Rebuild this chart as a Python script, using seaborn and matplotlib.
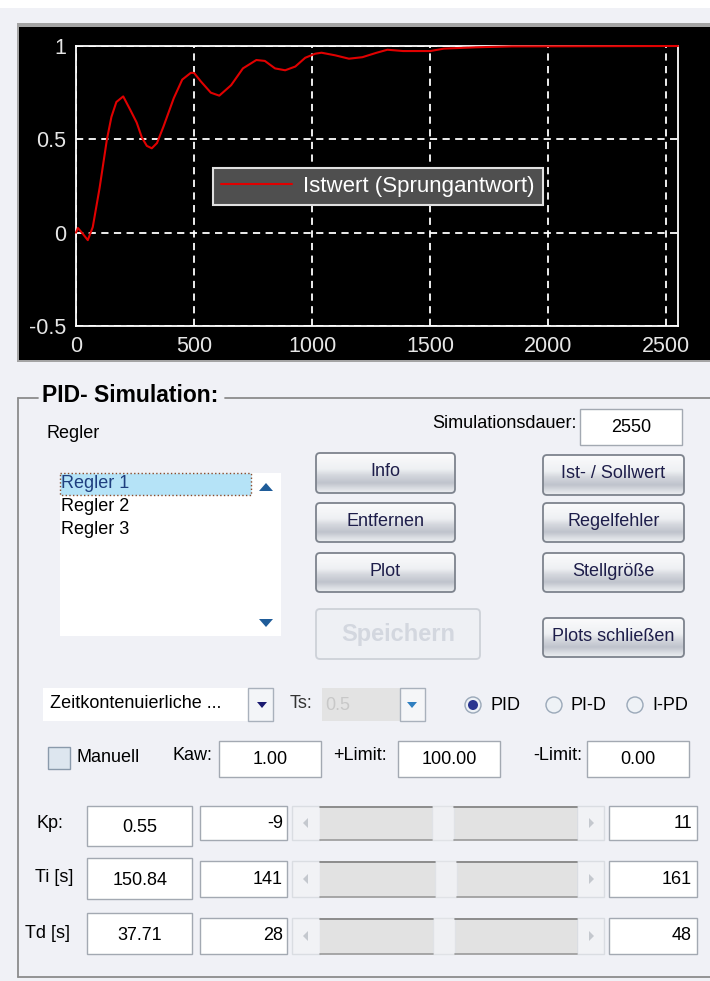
import numpy as np
import matplotlib
matplotlib.use("Agg")
import matplotlib.pyplot as plt
import seaborn as sns
from matplotlib.patches import Rectangle, FancyBboxPatch, Circle, Polygon

# Sprungantwort (Istwert)
zeit = [0, 8, 25, 50, 71, 100, 131, 150, 171, 200, 229, 257, 279, 300, 321,
        343, 371, 414, 450, 486, 500, 529, 571, 607, 657, 707, 764, 800, 843,
        886, 929, 971, 1014, 1040, 1098, 1156, 1213, 1271, 1319, 1386, 1501,
        1559, 1693, 1847, 2550]
istwert = [0.0, 0.025, 0.0, -0.04, 0.03, 0.24, 0.5, 0.62, 0.70, 0.73, 0.66,
           0.59, 0.51, 0.465, 0.452, 0.48, 0.57, 0.72, 0.82, 0.856, 0.856,
           0.81, 0.75, 0.734, 0.79, 0.88, 0.925, 0.92, 0.88, 0.87, 0.89,
           0.937, 0.959, 0.964, 0.95, 0.932, 0.94, 0.963, 0.98, 0.973, 0.973,
           0.986, 0.993, 0.998, 1.0]
legende = "Istwert (Sprungantwort)"
x_ticks = [0, 500, 1000, 1500, 2000, 2500]
y_ticks = [-0.5, 0, 0.5, 1]
y_tick_labels = ["-0.5", "0", "0.5", "1"]
sim_dauer = "2550"

regler = ["Regler 1", "Regler 2", "Regler 3"]
buttons_links = ["Info", "Entfernen", "Plot"]
buttons_rechts = ["Ist- / Sollwert", "Regelfehler", "Stellgröße"]
modi = ["PID", "PI-D", "I-PD"]
limits = [("Kaw:", "1.00"), ("+Limit:", "100.00"), ("-Limit:", "0.00")]
param_namen = ["Kp:", "Ti [s]", "Td [s]"]
param_werte = ["0.55", "150.84", "37.71"]
param_min = ["-9", "141", "28"]
param_max = ["11", "161", "48"]

BG = "#f0f1f6"

sns.set_theme(style="dark")
plt.rcParams["font.family"] = ["Liberation Sans", "DejaVu Sans"]

fig = plt.figure(figsize=(7.1, 9.81), dpi=100, facecolor=BG)

# Hintergrund-Achse in Pixelkoordinaten fuer die GUI-Elemente
gui = fig.add_axes([0, 0, 1, 1], zorder=0)
gui.set_xlim(0, 710)
gui.set_ylim(981, 0)
gui.axis("off")
gui.set_facecolor(BG)


def rect(x0, y0, x1, y1, fc="white", ec="#a3a9b2", lw=1.0, z=2, **kw):
    gui.add_patch(Rectangle((x0, y0), x1 - x0, y1 - y0, fc=fc, ec=ec, lw=lw, zorder=z, **kw))


def txt(x, y, s, size=13, ha="left", color="black", **kw):
    gui.text(x, y, s, fontsize=size, ha=ha, va="center", color=color, zorder=6, **kw)


def verlauf(stops, n=64):
    pos = [p for p, _ in stops]
    cols = np.array([matplotlib.colors.to_rgb(c) for _, c in stops])
    yy = np.linspace(0, 1, n)
    return np.stack([np.interp(yy, pos, cols[:, i]) for i in range(3)], axis=-1)[:, None, :]


BTN = verlauf([(0, "#fbfbfc"), (0.4, "#eef0f3"), (0.55, "#d5d8de"),
               (0.75, "#bfc3cc"), (0.9, "#dcdfe4"), (1, "#eceef1")])


def button(x0, y0, x1, y1, s, enabled=True):
    patch = FancyBboxPatch((x0, y0), x1 - x0, y1 - y0, boxstyle="round,pad=0,rounding_size=4",
                           fc="none", ec="#7d838d" if enabled else "#cdd1d8", lw=1.3, zorder=4)
    gui.add_patch(patch)
    if enabled:
        im = gui.imshow(BTN, extent=(x0, x1, y1, y0), aspect="auto", zorder=3, interpolation="bilinear")
        im.set_clip_path(patch)
        txt((x0 + x1) / 2, (y0 + y1) / 2 - 1, s, ha="center", color="#1e1e4a")
    else:
        back = FancyBboxPatch((x0, y0), x1 - x0, y1 - y0, boxstyle="round,pad=0,rounding_size=4",
                              fc="#eef0f4", ec="none", zorder=3)
        gui.add_patch(back)
        txt((x0 + x1) / 2, (y0 + y1) / 2, s, size=17, ha="center", color="#d3d7df", fontweight="bold")


# Kopfbereich und schwarzes Plotfeld
rect(0, 0, 710, 8, fc="white", ec="none", z=1)
rect(17, 23, 712, 362, fc="#a4a4a4", ec="none", z=1)
rect(19, 27, 712, 360, fc="black", ec="none", z=1)

# Plot
ax = fig.add_axes([76 / 710, 1 - 326 / 981, (678 - 76) / 710, (326 - 46) / 981], zorder=2)
ax.set_facecolor("black")
sns.lineplot(x=zeit, y=istwert, ax=ax, color="#e00000", lw=1.5, label=legende,
             estimator=None, sort=False)
ax.lines[0].set_clip_on(False)
ax.lines[0].set_zorder(4)
ax.set_xlim(0, 2550)
ax.set_ylim(-0.5, 1)
ax.set_xticks(x_ticks)
ax.set_xticklabels([str(v) for v in x_ticks])
ax.set_yticks(y_ticks)
ax.set_yticklabels(y_tick_labels)
ax.grid(True, color="white", linestyle=(0, (4, 3)), linewidth=1.3)
for sp in ax.spines.values():
    sp.set_color("white")
    sp.set_linewidth(1.3)
    sp.set_visible(True)
ax.tick_params(length=0, labelsize=15.5, labelcolor="#e6e6e6", pad=7)
ax.set_xlabel("")
ax.set_ylabel("")
leg = ax.legend(loc="center", bbox_to_anchor=(378 / 710, 1 - 186.5 / 981),
                bbox_transform=fig.transFigure, fontsize=16, labelcolor="white",
                facecolor="#4f4f4f", edgecolor="#e0e0e0", framealpha=1, fancybox=False,
                handlelength=3.2, borderpad=0.35, handletextpad=0.5)
leg.get_frame().set_linewidth(1.5)

# Rahmen "PID- Simulation:"
fc_frame = "#8c8c8c"
gui.plot([18, 18], [398, 977], color=fc_frame, lw=1.3, zorder=2)
gui.plot([18, 38], [398, 398], color=fc_frame, lw=1.3, zorder=2)
gui.plot([225, 710], [398, 398], color=fc_frame, lw=1.3, zorder=2)
gui.plot([18, 710], [977, 977], color=fc_frame, lw=1.3, zorder=2)
txt(42, 395, "PID- Simulation:", size=16.5, fontweight="bold")

txt(47, 434, "Regler")
txt(577, 424, "Simulationsdauer:", ha="right")
rect(580, 409, 682, 445)
txt(631, 428, sim_dauer, ha="center")

# Liste der Regler
rect(60, 473, 281, 636, ec="none")
rect(60, 473, 251, 495, fc="#b5e3f7", ec="#8b4a2a", lw=1.0, linestyle=":", z=3)
for i, r in enumerate(regler):
    txt(61, 484 + 22.5 * i, r, color="#1f3f7f" if i == 0 else "black")
gui.add_patch(Polygon([(259, 491), (273, 491), (266, 483)], fc="#1f5c99", ec="none", zorder=4))
gui.add_patch(Polygon([(259, 619), (273, 619), (266, 627)], fc="#1f5c99", ec="none", zorder=4))

# Buttons
for (y0, y1), s in zip([(453, 493), (503, 542), (553, 592)], buttons_links):
    button(316, y0, 455, y1, s)
for (y0, y1), s in zip([(455, 495), (503, 542), (553, 592)], buttons_rechts):
    button(543, y0, 684, y1, s)
button(316, 609, 480, 659, "Speichern", enabled=False)
button(543, 618, 684, 657, "Plots schließen")

# Auswahlzeile
rect(43, 688, 248, 721, ec="none")
txt(50, 704, "Zeitkontenuierliche ...")
rect(248, 688, 273, 721, fc="#f3f5f8", ec="#a9b1bc")
gui.add_patch(Polygon([(257, 702), (267, 702), (262, 708)], fc="#1a1a70", ec="none", zorder=4))
txt(290, 703, "Ts:", color="#333333")
rect(322, 688, 400, 721, fc="#e3e3e3", ec="none")
txt(325, 705, "0.5", color="#c8c8c8")
rect(400, 688, 425, 721, fc="#f5f6f8", ec="#a9b1bc")
gui.add_patch(Polygon([(407, 702), (417, 702), (412, 708)], fc="#2f7fc0", ec="none", zorder=4))
for i, (cx, m) in enumerate(zip([473, 554, 635], modi)):
    gui.add_patch(Circle((cx, 705), 8, fc="#eef2f6", ec="#9aa8b8", lw=1.0, zorder=4))
    if i == 0:
        gui.add_patch(Circle((cx, 705), 5, fc="#2a3590", ec="none", zorder=5))
    txt(cx + 17, 705, m)

# Manuell / Limits
rect(48, 747, 70, 769, fc="#dde6ef", ec="#8a9aab")
txt(77, 758, "Manuell")
for (lx, bx), (name, wert) in zip([(172, 219), (333, 398), (533, 587)], limits):
    txt(lx, 755, name)
    rect(bx, 741, bx + 102, 777)
    txt(bx + 51, 760, wert, ha="center")

# Parameterzeilen mit Schiebereglern
zeilen = [((806, 846), (806, 840), 823, 37, 432),
          ((858, 899), (861, 897), 878, 35, 435),
          ((913, 954), (918, 954), 933, 25, 433)]
for (b, s, ly, lx, th), name, w, lo, hi in zip(zeilen, param_namen, param_werte, param_min, param_max):
    txt(lx, ly, name)
    rect(87, b[0], 192, b[1])
    txt(140, (b[0] + b[1]) / 2 + 2, w, ha="center")
    rect(200, s[0], 287, s[1])
    txt(283, (s[0] + s[1]) / 2, lo, ha="right")
    rect(609, s[0], 697, s[1])
    txt(692, (s[0] + s[1]) / 2, hi, ha="right")
    # Schieberegler
    rect(292, s[0], 320, s[1], fc="#f1f2f5", ec="#dadde2")
    rect(577, s[0], 604, s[1], fc="#f1f2f5", ec="#dadde2")
    ym = (s[0] + s[1]) / 2
    gui.add_patch(Polygon([(308, ym - 5), (308, ym + 5), (303, ym)], fc="#c4c8ce", ec="none", zorder=4))
    gui.add_patch(Polygon([(589, ym - 5), (589, ym + 5), (594, ym)], fc="#c4c8ce", ec="none", zorder=4))
    for a, e in [(320, th), (th + 22, 577)]:
        rect(a, s[0], e, s[1], fc="#e2e2e2", ec="none")
        gui.plot([a, e], [s[0] + 0.5, s[0] + 0.5], color="#7e7e7e", lw=1.2, zorder=3)
        gui.plot([a, e], [s[1] - 0.5, s[1] - 0.5], color="#9a9a9a", lw=1.2, zorder=3)
    rect(th, s[0], th + 22, s[1], fc="#eff0f3", ec="#e0e2e6")

fig.savefig("out.png", dpi=100, facecolor=BG)
